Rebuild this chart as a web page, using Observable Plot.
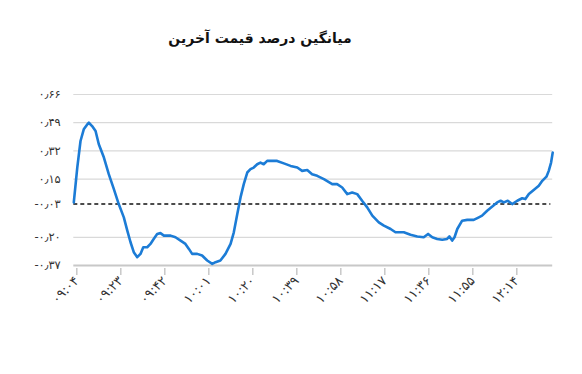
<!DOCTYPE html>
<html>
<head>
<meta charset="utf-8">
<script src="https://cdn.jsdelivr.net/npm/d3@7"></script>
<script src="https://cdn.jsdelivr.net/npm/@observablehq/plot@0.6"></script>
<style>
  html, body { margin: 0; padding: 0; background: #fff; }
  #title { height: 56px; width: 582px; text-align: center; font-family: "DejaVu Sans", sans-serif; font-weight: bold; font-size: 14px; color: #111; direction: rtl; box-sizing: border-box; padding-right: 62px; }
  #title span { display: inline-block; line-height: 1; margin-top: 31px; }
</style>
</head>
<body>
<div id="title"><span>میانگین درصد قیمت آخرین</span></div>
<div id="chart"></div>
<script>
// minutes after 09:00
const minutes = [4, 5.5, 6.9, 8.3, 9.8, 10.5, 11.9, 13.4, 14.8, 17.0, 19.1, 21.3, 23.4, 25.6, 27.1, 28.5, 29.9, 31.4, 32.8, 34.0, 35.7, 37.1, 38.5, 40.0, 41.4, 42.9, 45.8, 47.9, 50.1, 52.2, 53.7, 55.1, 57.3, 59.4, 61.6, 63.8, 65.2, 67.3, 69.5, 71.7, 73.1, 74.6, 76.0, 77.4, 78.9, 80.3, 81.7, 83.2, 84.6, 86.0, 87.5, 90.4, 91.8, 94.7, 97.6, 100.5, 102.6, 104.8, 106.9, 109.1, 112.0, 115.6, 117.7, 119.9, 122.1, 124.2, 126.4, 128.5, 130.7, 132.9, 135.7, 137.9, 140.8, 142.9, 146.5, 149.4, 152.3, 155.1, 157.0, 158.8, 160.9, 163.1, 165.2, 166.2, 167.4, 168.4, 169.6, 171.7, 173.9, 176.7, 178.9, 180.3, 182.5, 184.7, 186.8, 188.3, 189.7, 191.4, 193.3, 195.5, 197.6, 199.0, 200.5, 202.6, 204.8, 206.3, 208.1, 209.1, 210.1, 210.8];
const values = [0.01, 0.22, 0.38, 0.45, 0.48, 0.49, 0.47, 0.44, 0.36, 0.28, 0.18, 0.09, 0.00, -0.08, -0.16, -0.23, -0.29, -0.32, -0.30, -0.26, -0.26, -0.24, -0.21, -0.18, -0.175, -0.19, -0.19, -0.20, -0.22, -0.24, -0.27, -0.30, -0.30, -0.31, -0.34, -0.36, -0.35, -0.34, -0.30, -0.24, -0.17, -0.06, 0.04, 0.12, 0.19, 0.21, 0.22, 0.24, 0.25, 0.24, 0.26, 0.26, 0.26, 0.245, 0.23, 0.22, 0.20, 0.205, 0.18, 0.17, 0.15, 0.12, 0.12, 0.10, 0.06, 0.07, 0.06, 0.02, -0.02, -0.07, -0.11, -0.13, -0.15, -0.17, -0.17, -0.185, -0.195, -0.20, -0.18, -0.20, -0.21, -0.215, -0.21, -0.195, -0.22, -0.20, -0.15, -0.10, -0.095, -0.095, -0.08, -0.07, -0.04, -0.015, 0.01, 0.02, 0.01, 0.02, 0.00, 0.02, 0.035, 0.03, 0.06, 0.085, 0.11, 0.14, 0.165, 0.20, 0.25, 0.31];

const xTickMinutes = [4, 23, 42, 61, 80, 99, 118, 137, 156, 175, 194];
const xTickLabels = ["۰۹:۰۴", "۰۹:۲۳", "۰۹:۴۲", "۱۰:۰۱", "۱۰:۲۰", "۱۰:۳۹", "۱۰:۵۸", "۱۱:۱۷", "۱۱:۳۶", "۱۱:۵۵", "۱۲:۱۴"];

const yTickValues = [0.66, 0.49, 0.32, 0.15, 0, -0.20, -0.37];
const yTickLabels = ["۰٫۶۶", "۰٫۴۹", "۰٫۳۲", "۰٫۱۵", "-۰٫۰۳", "-۰٫۲۰", "-۰٫۳۷"];
const gridValues = [0.66, 0.49, 0.32, 0.15, -0.20];
const baselineValue = 0;

const data = minutes.map((m, i) => ({m, v: values[i]}));
const xLab = new Map(xTickMinutes.map((d, i) => [d, xTickLabels[i]]));
const yLab = new Map(yTickValues.map((d, i) => [d, yTickLabels[i]]));

const chart = Plot.plot({
  width: 582,
  height: 318,
  marginLeft: 73.3,
  marginRight: 29.8,
  marginTop: 38,
  marginBottom: 109,
  style: {fontFamily: "DejaVu Sans, sans-serif", background: "#fff"},
  x: {domain: [4, 210.8], label: null},
  y: {domain: [-0.37, 0.66], label: null},
  marks: [
    Plot.gridY(gridValues, {stroke: "#d9d9d9", strokeOpacity: 1, strokeWidth: 1.2}),
    Plot.axisY(yTickValues, {label: null, tickSize: 0, tickPadding: 13, tickFormat: d => yLab.get(d), fontSize: 11.5, fill: "#333"}),
    Plot.axisX(xTickMinutes, {label: null, tickSize: 7, tickPadding: 3, tickRotate: -45, tickFormat: d => xLab.get(d), fontSize: 13, fill: "#333", stroke: "#c8c8c8", strokeWidth: 1.5, dx: 3, dy: 3}),
    Plot.ruleY([-0.37], {stroke: "#c8c8c8", strokeWidth: 2}),
    Plot.ruleY([baselineValue], {stroke: "#111", strokeWidth: 1.5, strokeDasharray: "4,3", x1: 4, x2: 210}),
    Plot.line(data, {x: "m", y: "v", stroke: "#1c7cd6", strokeWidth: 2.6, curve: "linear"})
  ]
});
document.getElementById("chart").appendChild(chart);
</script>
</body>
</html>
